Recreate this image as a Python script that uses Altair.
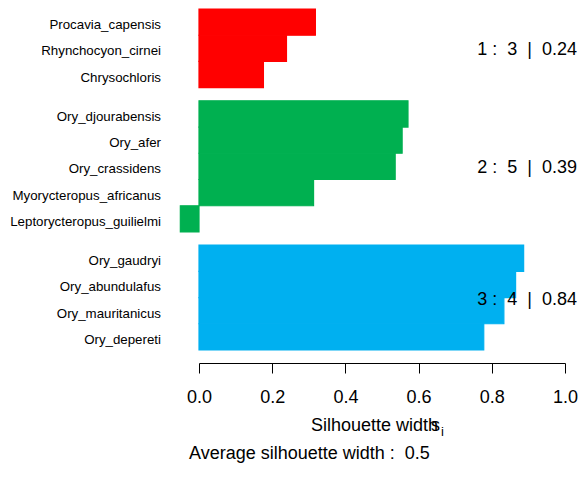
import altair as alt
import pandas as pd

# ---- data ----
names = ["Procavia_capensis", "Rhynchocyon_cirnei", "Chrysochloris",
         "Ory_djourabensis", "Ory_afer", "Ory_crassidens",
         "Myorycteropus_africanus", "Leptorycteropus_guilielmi",
         "Ory_gaudryi", "Ory_abundulafus", "Ory_mauritanicus", "Ory_depereti"]
clusters = [1, 1, 1, 2, 2, 2, 2, 2, 3, 3, 3, 3]
sil_width = [0.318, 0.239, 0.176, 0.571, 0.555, 0.536, 0.313, -0.051,
             0.887, 0.865, 0.833, 0.778]

cluster_ids = [1, 2, 3]
cluster_sizes = [3, 5, 4]
cluster_avg = [0.24, 0.39, 0.84]
overall_avg = 0.5

x_ticks = [0.0, 0.2, 0.4, 0.6, 0.8, 1.0]
colors = ["#FF0000", "#00B050", "#00B0F0"]

FONT = "Liberation Sans"
SP = "\u00a0"  # non-collapsing space

# ---- derived table (R barplot: bar width 1, space 0.5 between clusters) ----
rows = []
for i, (n, c, s) in enumerate(zip(names, clusters, sil_width)):
    pos = i + 0.5 * (c - 1)
    rows.append({"name": n, "cluster": c, "s": s, "zero": 0.0,
                 "y0": pos, "y1": pos + 1, "ymid": pos + 0.5})
df = pd.DataFrame(rows)

crows = []
for c, n, a in zip(cluster_ids, cluster_sizes, cluster_avg):
    sub = df[df.cluster == c]
    crows.append({"cluster": c, "ymid": (sub.y0.min() + sub.y1.max()) / 2,
                  "label": f"{c}{SP}:{SP}{SP}{n}{SP}{SP}|{SP}{SP}{a:.2f}"})
cdf = pd.DataFrame(crows)

W, H = 366, 341
yscale = alt.Scale(domain=[0, 13], reverse=True, nice=False, zero=False)
xscale = alt.Scale(domain=[0, 1], nice=False, zero=False)
cscale = alt.Scale(domain=cluster_ids, range=colors)

bars = alt.Chart(df).mark_rect(strokeWidth=1.2).encode(
    x=alt.X("zero:Q", scale=xscale,
            axis=alt.Axis(values=x_ticks, format=".1f", title=None, grid=False,
                          offset=13, tickSize=10, labelFontSize=18,
                          labelFont=FONT, labelColor="black", tickColor="black",
                          domainColor="black", labelPadding=15,
                          labelFlush=False)),
    x2="s:Q",
    y=alt.Y("y0:Q", scale=yscale, axis=None),
    y2="y1:Q",
    color=alt.Color("cluster:N", scale=cscale, legend=None),
    stroke=alt.Stroke("cluster:N", scale=cscale, legend=None),
)

row_labels = alt.Chart(df).mark_text(
    align="right", baseline="alphabetic", dy=7, fontSize=13.3, font=FONT,
    color="black"
).encode(
    x=alt.value(-38),
    y=alt.Y("ymid:Q", scale=yscale),
    text="name:N",
)

clabels = alt.Chart(cdf).mark_text(
    align="right", baseline="middle", dy=2, fontSize=18, font=FONT, color="black"
).encode(
    x=alt.value(378),
    y=alt.Y("ymid:Q", scale=yscale),
    text="label:N",
)

title_main = alt.Chart(pd.DataFrame({"t": ["Silhouette width"]})).mark_text(
    align="left", baseline="alphabetic", fontSize=18, font=FONT, color="black"
).encode(x=alt.value(112), y=alt.value(422), text="t:N")

title_s = alt.Chart(pd.DataFrame({"t": ["s"]})).mark_text(
    align="left", baseline="alphabetic", fontSize=18, font=FONT, color="black"
).encode(x=alt.value(232), y=alt.value(422), text="t:N")

title_i = alt.Chart(pd.DataFrame({"t": ["i"]})).mark_text(
    align="left", baseline="alphabetic", fontSize=13, font=FONT, color="black"
).encode(x=alt.value(242), y=alt.value(427), text="t:N")

avg_text = alt.Chart(pd.DataFrame({"t": [f"Average silhouette width{SP}:{SP}{SP}{overall_avg}"]})).mark_text(
    align="left", baseline="alphabetic", fontSize=18, font=FONT, color="black"
).encode(x=alt.value(-10), y=alt.value(450), text="t:N")

chart = alt.layer(bars, row_labels, clabels, title_main, title_s, title_i, avg_text).properties(
    width=W, height=H,
    autosize=alt.AutoSizeParams(type="none"),
    padding={"left": 191, "top": 1, "right": 14, "bottom": 113},
    background="white",
).configure_view(stroke=None)

chart.save("out.html", embed_options={"renderer": "svg", "actions": False})
